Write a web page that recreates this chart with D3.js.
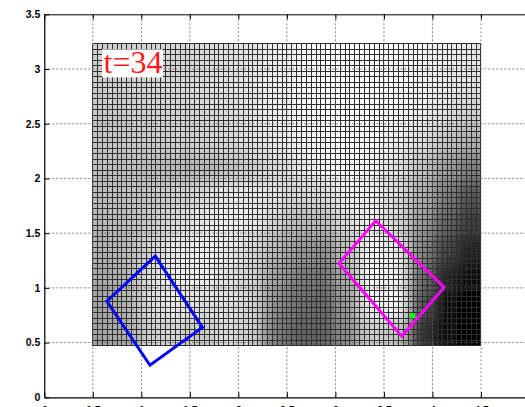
<!DOCTYPE html>
<meta charset="utf-8">
<title>t=34 field</title>
<style>
  body { margin: 0; background: #fff; }
  .tick text { font-family: "Liberation Sans", Arial, sans-serif; font-weight: bold; font-size: 10.5px; fill: #000; }
  .grid line { stroke: #666; stroke-width: 0.8px; stroke-dasharray: 2,2; }
  .mesh line { stroke: #2e2e2e; stroke-width: 1px; shape-rendering: crispEdges; }
</style>
<body>
<script src="https://d3js.org/d3.v7.min.js"></script>
<script>

var width = 525,
    height = 407;

// axis ticks
var xTicks = [0, 0.5, 1, 1.5, 2, 2.5, 3, 3.5, 4, 4.5];
var yTicks = [0, 0.5, 1, 1.5, 2, 2.5, 3, 3.5];

// mesh extents and resolution
var meshX = [0.5, 4.5];
var meshY = [0.47, 3.23];
var meshCols = 80,
    meshRows = 55;

// coarse gray field (0 = black, 255 = white), rows from top (y=3.23) to bottom (y=0.47)
var field = [
  [0xd0, 0xd0, 0xd4, 0xd8, 0xdc, 0xe0, 0xe4, 0xec, 0xf4, 0xfa, 0xfc, 0xfc, 0xf8, 0xf4, 0xec, 0xe8],
  [0xcc, 0xd0, 0xd4, 0xd8, 0xdc, 0xe0, 0xe4, 0xec, 0xf4, 0xfa, 0xfc, 0xfc, 0xf8, 0xf0, 0xe8, 0xe0],
  [0xc8, 0xcc, 0xd0, 0xd4, 0xd8, 0xdc, 0xe4, 0xec, 0xf4, 0xfa, 0xfc, 0xfc, 0xf4, 0xec, 0xe0, 0xd0],
  [0xc4, 0xc8, 0xcc, 0xd0, 0xd4, 0xd8, 0xe0, 0xe8, 0xf0, 0xf8, 0xfc, 0xf8, 0xec, 0xe0, 0xc8, 0xb0],
  [0xc0, 0xc0, 0xbc, 0xb8, 0xb8, 0xc0, 0xcc, 0xd8, 0xe4, 0xf0, 0xf8, 0xf0, 0xe0, 0xc4, 0xa0, 0x80],
  [0xbc, 0xc0, 0xc4, 0xcc, 0xd8, 0xe4, 0xe8, 0xe0, 0xd4, 0xd8, 0xec, 0xec, 0xd8, 0xb0, 0x80, 0x58],
  [0xb8, 0xc0, 0xcc, 0xdc, 0xe8, 0xf0, 0xec, 0xd4, 0xbc, 0xbc, 0xe0, 0xf0, 0xd8, 0xa0, 0x68, 0x40],
  [0xb0, 0xbc, 0xd4, 0xe8, 0xf0, 0xe8, 0xd8, 0xb8, 0x98, 0x90, 0xc0, 0xf4, 0xe8, 0x88, 0x48, 0x20],
  [0xa8, 0xb8, 0xe0, 0xf0, 0xec, 0xe0, 0xd4, 0xa0, 0x80, 0x74, 0xb0, 0xf8, 0xf0, 0x70, 0x28, 0x08],
  [0xa4, 0xb4, 0xdc, 0xe8, 0xdc, 0xe0, 0xd4, 0x90, 0x70, 0x68, 0x9c, 0xf0, 0xf4, 0x58, 0x10, 0x00],
  [0xa4, 0xb0, 0xd0, 0xd4, 0xc8, 0xdc, 0xd0, 0x80, 0x64, 0x64, 0x90, 0xd0, 0xc8, 0x38, 0x08, 0x00]
];

// the two boxes, the marker and the label
var blueBox = [[1.144, 1.29], [0.645, 0.878], [1.089, 0.293], [1.629, 0.638]];
var magentaBox = [[3.415, 1.613], [3.037, 1.223], [3.684, 0.558], [4.12, 1.004]];
var marker = [3.794, 0.744];
var label = {text: "t=34", x: 0.61, y: 2.96};

var x = d3.scaleLinear().domain([0, 5]).range([44.3, 529.5]);
var y = d3.scaleLinear().domain([0, 3.5]).range([397.3, 14.3]);

var svg = d3.select("body").append("svg")
  .attr("width", width)
  .attr("height", height);

var defs = svg.append("defs");
defs.append("clipPath").attr("id", "meshclip")
  .append("rect")
  .attr("x", x(meshX[0]))
  .attr("y", y(meshY[1]))
  .attr("width", x(meshX[1]) - x(meshX[0]))
  .attr("height", y(meshY[0]) - y(meshY[1]));
defs.append("filter").attr("id", "soft")
  .attr("x", "-10%").attr("y", "-10%").attr("width", "120%").attr("height", "120%")
  .append("feGaussianBlur").attr("stdDeviation", 7);

// field cells
var nr = field.length, nc = field[0].length;
var cw = (meshX[1] - meshX[0]) / nc,
    ch = (meshY[1] - meshY[0]) / nr;
var cells = [];
field.forEach(function(row, r) {
  row.forEach(function(v, c) {
    cells.push({c: c, r: r, v: v});
  });
});

var pad = 30; // outer cells stretched so the blur does not fade at the border
svg.append("g").attr("clip-path", "url(#meshclip)")
  .append("g").attr("filter", "url(#soft)")
  .selectAll("rect").data(cells).enter().append("rect")
  .attr("x", function(d) { return x(meshX[0] + d.c * cw) - (d.c == 0 ? pad : 0); })
  .attr("y", function(d) { return y(meshY[1] - d.r * ch) - (d.r == 0 ? pad : 0); })
  .attr("width", function(d) { return x(cw) - x(0) + 0.6 + (d.c == 0 || d.c == nc - 1 ? pad : 0); })
  .attr("height", function(d) { return y(0) - y(ch) + 0.6 + (d.r == 0 || d.r == nr - 1 ? pad : 0); })
  .attr("fill", function(d) { return d3.rgb(d.v, d.v, d.v); });

// mesh lines
var mesh = svg.append("g").attr("class", "mesh");
var mx = d3.range(meshCols + 1).map(function(i) { return meshX[0] + i * (meshX[1] - meshX[0]) / meshCols; });
var my = d3.range(meshRows + 1).map(function(i) { return meshY[0] + i * (meshY[1] - meshY[0]) / meshRows; });
mesh.selectAll(".vx").data(mx).enter().append("line")
  .attr("x1", function(d) { return x(d); }).attr("x2", function(d) { return x(d); })
  .attr("y1", y(meshY[0])).attr("y2", y(meshY[1]));
mesh.selectAll(".hy").data(my).enter().append("line")
  .attr("y1", function(d) { return y(d); }).attr("y2", function(d) { return y(d); })
  .attr("x1", x(meshX[0])).attr("x2", x(meshX[1]));

// dotted grid
var grid = svg.append("g").attr("class", "grid");
grid.selectAll(".gx").data(xTicks.slice(1)).enter().append("line")
  .attr("x1", function(d) { return x(d); }).attr("x2", function(d) { return x(d); })
  .attr("y1", y(0)).attr("y2", y(3.5));
grid.selectAll(".gy").data(yTicks.slice(1, -1)).enter().append("line")
  .attr("y1", function(d) { return y(d); }).attr("y2", function(d) { return y(d); })
  .attr("x1", x(0)).attr("x2", width);

// axes, ticks inside like matlab
svg.append("g").attr("transform", "translate(0," + y(0) + ")")
  .call(d3.axisBottom(x).tickValues(xTicks).tickSizeInner(-5).tickSizeOuter(0).tickPadding(9)
    .tickFormat(d3.format("")))
  .call(function(g) { g.select(".domain").attr("stroke", "#000").attr("stroke-width", 1.2); });
svg.append("g").attr("transform", "translate(0," + y(3.5) + ")")
  .call(d3.axisTop(x).tickValues(xTicks).tickSizeInner(-5).tickSizeOuter(0).tickFormat(""))
  .call(function(g) { g.select(".domain").attr("stroke", "#000"); });
svg.append("g").attr("transform", "translate(" + x(0) + ",0)")
  .call(d3.axisLeft(y).tickValues(yTicks).tickSizeInner(-5).tickSizeOuter(0).tickPadding(4)
    .tickFormat(d3.format("")))
  .call(function(g) { g.select(".domain").attr("stroke", "#000").attr("stroke-width", 1.2); });

// boxes
var line = d3.line().x(function(d) { return x(d[0]); }).y(function(d) { return y(d[1]); })
  .curve(d3.curveLinearClosed);
svg.append("path").datum(blueBox).attr("d", line)
  .attr("fill", "none").attr("stroke", "#0000ff").attr("stroke-width", 3).attr("stroke-linejoin", "miter");
svg.append("path").datum(magentaBox).attr("d", line)
  .attr("fill", "none").attr("stroke", "#ff00ff").attr("stroke-width", 3).attr("stroke-linejoin", "miter");

svg.append("rect")
  .attr("x", x(marker[0]) - 2.5).attr("y", y(marker[1]) - 2.5)
  .attr("width", 5).attr("height", 5)
  .attr("fill", "#00ff00");

// label with white background
var lbl = svg.append("g");
var bg = lbl.append("rect").attr("fill", "#fff");
var txt = lbl.append("text")
  .attr("x", x(label.x)).attr("y", y(label.y))
  .attr("font-family", "'Liberation Serif', 'Times New Roman', serif")
  .attr("font-size", 32)
  .attr("fill", "#ff1a1a")
  .text(label.text);
var bb = txt.node().getBBox();
bg.attr("x", bb.x - 1.5).attr("width", bb.width + 2)
  .attr("y", y(label.y) - 24).attr("height", 28);

</script>
